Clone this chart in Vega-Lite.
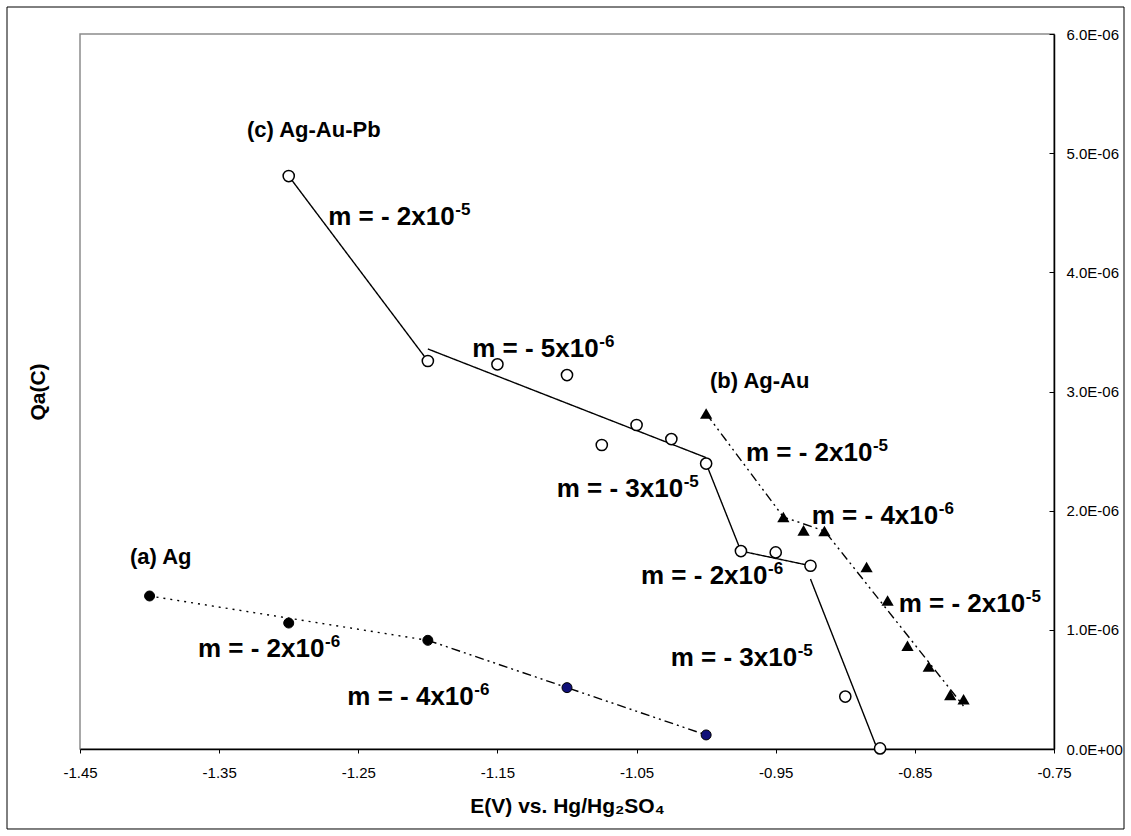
{
  "$schema": "https://vega.github.io/schema/vega-lite/v6.json",
  "width": 974,
  "height": 715,
  "autosize": {"type": "none"},
  "padding": {"left": 80, "top": 34, "right": 77, "bottom": 87},
  "background": "white",
  "config": {
    "font": "Liberation Sans",
    "view": {"stroke": "#8c8c8c", "strokeWidth": 1.5}
  },
  "datasets": {
    "frame": [
      {"x": -1.50246, "x2": -0.69969, "y": -0.6713e-6, "y2": 6.2265e-6}
    ],
    "ag": [
      {"x": -1.40, "y": 1.284e-6, "part": "1"},
      {"x": -1.30, "y": 1.057e-6, "part": "1"},
      {"x": -1.20, "y": 0.912e-6, "part": "1"},
      {"x": -1.10, "y": 0.515e-6, "part": "2"},
      {"x": -1.00, "y": 0.118e-6, "part": "2"}
    ],
    "agau": [
      {"x": -1.000, "y": 2.815e-6},
      {"x": -0.9445, "y": 1.947e-6},
      {"x": -0.930, "y": 1.835e-6},
      {"x": -0.915, "y": 1.829e-6},
      {"x": -0.8847, "y": 1.527e-6},
      {"x": -0.8696, "y": 1.246e-6},
      {"x": -0.8553, "y": 0.866e-6},
      {"x": -0.840, "y": 0.692e-6},
      {"x": -0.8246, "y": 0.454e-6},
      {"x": -0.815, "y": 0.417e-6}
    ],
    "agaupb": [
      {"x": -1.300, "y": 4.808e-6},
      {"x": -1.200, "y": 3.256e-6},
      {"x": -1.150, "y": 3.228e-6},
      {"x": -1.100, "y": 3.138e-6},
      {"x": -1.075, "y": 2.551e-6},
      {"x": -1.050, "y": 2.719e-6},
      {"x": -1.025, "y": 2.601e-6},
      {"x": -1.000, "y": 2.395e-6},
      {"x": -0.975, "y": 1.661e-6},
      {"x": -0.950, "y": 1.650e-6},
      {"x": -0.925, "y": 1.538e-6},
      {"x": -0.900, "y": 0.440e-6},
      {"x": -0.875, "y": 0.005e-6}
    ],
    "lines": [
      {"seg": "ag1", "style": "dot", "x": -1.40, "y": 1.284e-6},
      {"seg": "ag1", "style": "dot", "x": -1.20, "y": 0.912e-6},
      {"seg": "ag2", "style": "dashdotdot", "x": -1.20, "y": 0.912e-6},
      {"seg": "ag2", "style": "dashdotdot", "x": -1.00, "y": 0.118e-6},
      {"seg": "au", "style": "dashdotdot", "x": -1.000, "y": 2.815e-6},
      {"seg": "au", "style": "dashdotdot", "x": -0.9445, "y": 1.947e-6},
      {"seg": "au", "style": "dashdotdot", "x": -0.9148, "y": 1.829e-6},
      {"seg": "au", "style": "dashdotdot", "x": -0.815, "y": 0.36e-6},
      {"seg": "pb1", "style": "solid", "x": -1.30, "y": 4.808e-6},
      {"seg": "pb1", "style": "solid", "x": -1.20, "y": 3.256e-6},
      {"seg": "pb2", "style": "solid", "x": -1.20, "y": 3.357e-6},
      {"seg": "pb2", "style": "solid", "x": -1.00, "y": 2.445e-6},
      {"seg": "pb3", "style": "solid", "x": -1.00, "y": 2.395e-6},
      {"seg": "pb3", "style": "solid", "x": -0.975, "y": 1.661e-6},
      {"seg": "pb3", "style": "solid", "x": -0.925, "y": 1.538e-6},
      {"seg": "pb5", "style": "solid", "x": -0.925, "y": 1.426e-6},
      {"seg": "pb5", "style": "solid", "x": -0.877, "y": 0.0}
    ],
    "slopes": [
      {"x": -1.2716, "y": 4.397e-6, "t": "m = - 2x10", "sup": "-5"},
      {"x": -1.1681, "y": 3.292e-6, "t": "m = - 5x10", "sup": "-6"},
      {"x": -1.1074, "y": 2.112e-6, "t": "m = - 3x10", "sup": "-5"},
      {"x": -1.0468, "y": 1.385e-6, "t": "m = - 2x10", "sup": "-6"},
      {"x": -1.0255, "y": 0.696e-6, "t": "m = - 3x10", "sup": "-5"},
      {"x": -0.9714, "y": 2.419e-6, "t": "m = - 2x10", "sup": "-5"},
      {"x": -0.9241, "y": 1.888e-6, "t": "m = - 4x10", "sup": "-6"},
      {"x": -0.8616, "y": 1.152e-6, "t": "m = - 2x10", "sup": "-5"},
      {"x": -1.3652, "y": 0.769e-6, "t": "m = - 2x10", "sup": "-6"},
      {"x": -1.2579, "y": 0.369e-6, "t": "m = - 4x10", "sup": "-6"}
    ],
    "names": [
      {"x": -1.330, "y": 5.136e-6, "t": "(c) Ag-Au-Pb"},
      {"x": -0.9972, "y": 3.029e-6, "t": "(b) Ag-Au"},
      {"x": -1.4141, "y": 1.552e-6, "t": "(a) Ag"}
    ]
  },
  "encoding": {
    "x": {
      "field": "x",
      "type": "quantitative",
      "scale": {"domain": [-1.45, -0.75], "nice": false, "zero": false},
      "axis": {
        "values": [-1.45, -1.35, -1.25, -1.15, -1.05, -0.95, -0.85, -0.75],
        "labelExpr": "(datum.value < 0 ? '-' : '') + format(abs(datum.value), '.2f')",
        "labelFont": "Liberation Sans",
        "labelFontSize": 15,
        "labelColor": "black",
        "labelFlush": false,
        "labelOverlap": false,
        "labelPadding": 12,
        "tickSize": 4,
        "tickColor": "black",
        "domainColor": "black",
        "domainWidth": 1.5,
        "grid": false,
        "title": "E(V) vs. Hg/Hg₂SO₄",
        "titleFont": "Liberation Sans",
        "titleFontSize": 21,
        "titleFontWeight": "bold",
        "titleColor": "black",
        "titleX": 487,
        "titleY": 63,
        "titleAlign": "center",
        "titleBaseline": "alphabetic"
      }
    }
  },
  "layer": [
    {
      "data": {"name": "lines"},
      "mark": {"type": "line", "color": "black", "strokeWidth": 1.4},
      "encoding": {
        "y": {
          "field": "y",
          "type": "quantitative",
          "scale": {"domain": [0, 6e-6], "nice": false, "zero": false},
          "axis": {
            "orient": "left",
            "labels": false,
            "ticks": false,
            "domain": false,
            "grid": false,
            "title": "Qa(C)",
            "titleFont": "Liberation Sans",
            "titleFontSize": 21,
            "titleFontWeight": "bold",
            "titleColor": "black",
            "titleAngle": -90,
            "titleX": -42,
            "titleY": 357.5,
            "titleAlign": "center",
            "titleBaseline": "middle"
          }
        },
        "detail": {"field": "seg"},
        "strokeDash": {
          "field": "style",
          "type": "nominal",
          "scale": {"domain": ["solid", "dot", "dashdotdot"], "range": [[1, 0], [2, 5], [9, 4, 2, 4, 2, 4]]},
          "legend": null
        }
      }
    },
    {
      "data": {"name": "agaupb"},
      "mark": {"type": "point", "shape": "circle", "filled": true, "fill": "white", "stroke": "black", "strokeWidth": 1.5, "size": 125, "opacity": 1},
      "encoding": {
        "y": {
          "field": "y",
          "type": "quantitative",
          "scale": {"domain": [0, 6e-6], "nice": false, "zero": false},
          "axis": {
            "orient": "right",
            "values": [0, 1e-6, 2e-6, 3e-6, 4e-6, 5e-6, 6e-6],
            "labelExpr": "datum.value == 0 ? '0.0E+00' : replace(upper(format(datum.value, '.1e')), 'E-', 'E-0')",
            "labelFont": "Liberation Sans",
            "labelFontSize": 15,
            "labelColor": "black",
            "labelFlush": false,
            "labelOverlap": false,
            "labelPadding": 17,
            "tickSize": -5,
            "tickColor": "black",
            "domainColor": "black",
            "domainWidth": 1.5,
            "grid": false,
            "title": null
          }
        }
      }
    },
    {
      "data": {"name": "agau"},
      "mark": {"type": "point", "shape": "triangle-up", "filled": true, "color": "black", "size": 150, "opacity": 1},
      "encoding": {
        "y": {"field": "y", "type": "quantitative", "scale": {"domain": [0, 6e-6], "nice": false, "zero": false}, "axis": null}
      }
    },
    {
      "data": {"name": "ag"},
      "mark": {"type": "point", "shape": "circle", "filled": true, "stroke": "black", "strokeWidth": 1, "size": 100, "opacity": 1},
      "encoding": {
        "y": {"field": "y", "type": "quantitative", "scale": {"domain": [0, 6e-6], "nice": false, "zero": false}, "axis": null},
        "fill": {"field": "part", "type": "nominal", "scale": {"domain": ["1", "2"], "range": ["black", "#101078"]}, "legend": null}
      }
    },
    {
      "data": {"name": "slopes"},
      "mark": {"type": "text", "align": "left", "baseline": "alphabetic", "font": "Liberation Sans", "fontSize": 26, "fontWeight": "bold", "color": "black"},
      "encoding": {
        "y": {"field": "y", "type": "quantitative", "scale": {"domain": [0, 6e-6], "nice": false, "zero": false}, "axis": null},
        "text": {"field": "t"}
      }
    },
    {
      "data": {"name": "slopes"},
      "mark": {"type": "text", "align": "left", "baseline": "alphabetic", "font": "Liberation Sans", "fontSize": 17, "fontWeight": "bold", "color": "black", "dx": 127, "dy": -10},
      "encoding": {
        "y": {"field": "y", "type": "quantitative", "scale": {"domain": [0, 6e-6], "nice": false, "zero": false}, "axis": null},
        "text": {"field": "sup"}
      }
    },
    {
      "data": {"name": "names"},
      "mark": {"type": "text", "align": "left", "baseline": "alphabetic", "font": "Liberation Sans", "fontSize": 22, "fontWeight": "bold", "color": "black"},
      "encoding": {
        "y": {"field": "y", "type": "quantitative", "scale": {"domain": [0, 6e-6], "nice": false, "zero": false}, "axis": null},
        "text": {"field": "t"}
      }
    },
    {
      "data": {"name": "frame"},
      "mark": {"type": "rect", "fill": null, "fillOpacity": 0, "stroke": "black", "strokeWidth": 1, "clip": false},
      "encoding": {
        "x2": {"field": "x2"},
        "y": {"field": "y", "type": "quantitative", "scale": {"domain": [0, 6e-6], "nice": false, "zero": false}, "axis": null},
        "y2": {"field": "y2"}
      }
    }
  ],
  "resolve": {"axis": {"y": "independent"}}
}
